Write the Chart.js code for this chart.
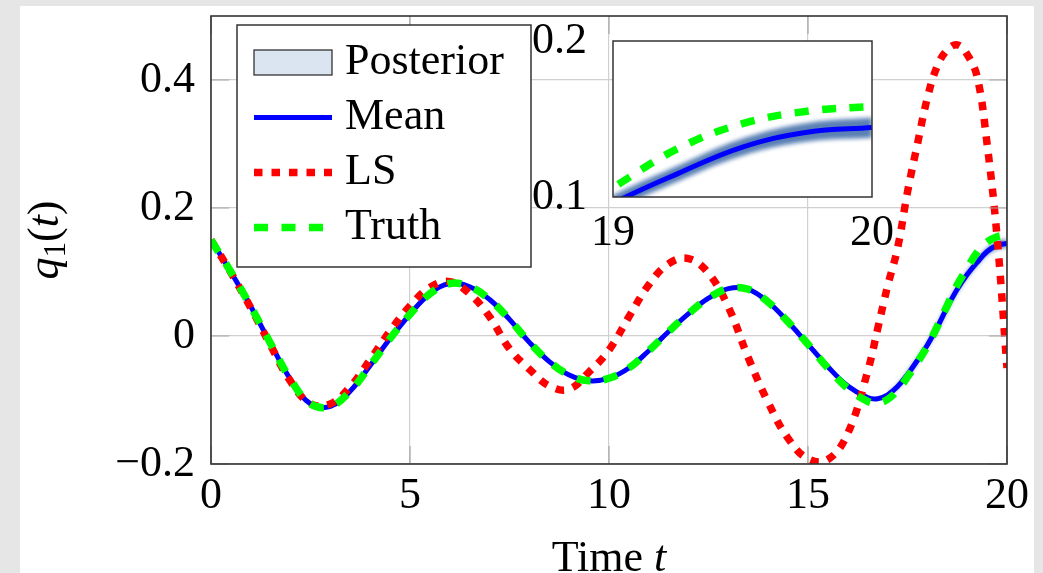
<!DOCTYPE html>
<html>
<head>
<meta charset="utf-8">
<script src="https://cdn.jsdelivr.net/npm/chart.js@4.4.1/dist/chart.umd.min.js"></script>
<style>
  html, body { margin: 0; padding: 0; background: #e6e6e6; }
  #sheet { position: absolute; left: 20px; top: 6px; width: 1014px; height: 567px; background: #fff; }
  #main { position: absolute; left: 0; top: 0; }
  #inset { position: absolute; left: 520px; top: 0; }
</style>
</head>
<body>
<div id="sheet"></div>
<canvas id="main" width="1043" height="573"></canvas>
<canvas id="inset" width="400" height="260"></canvas>
<script>
// time grid shared by the three curves
var tGrid = [0, 0.5, 1, 1.5, 2, 2.5, 3, 3.5, 4, 4.5, 5, 5.5, 6, 6.5, 7, 7.5, 8, 8.5, 9, 9.5,
  10, 10.5, 11, 11.5, 12, 12.5, 13, 13.5, 14, 14.5, 15, 15.5, 16, 16.5,
  16.75, 17, 17.25, 17.5, 17.75, 18, 18.25, 18.5, 18.75, 19, 19.25, 19.5, 19.75, 20];

var truthQ = [0.150, 0.100, 0.046, -0.012, -0.068, -0.106, -0.110, -0.086, -0.046, -0.004,
  0.034, 0.066, 0.082, 0.077, 0.057, 0.026, -0.010, -0.040, -0.061, -0.070,
  -0.066, -0.050, -0.023, 0.007, 0.035, 0.059, 0.074, 0.073, 0.053, 0.022,
  -0.013, -0.050, -0.082, -0.102,
  -0.105, -0.099, -0.085, -0.064, -0.041, -0.016, 0.015, 0.048, 0.080, 0.106, 0.131, 0.147, 0.155, 0.158];

var meanQ = [0.150, 0.100, 0.046, -0.012, -0.068, -0.106, -0.110, -0.086, -0.046, -0.004,
  0.034, 0.066, 0.082, 0.077, 0.057, 0.026, -0.010, -0.040, -0.061, -0.070,
  -0.066, -0.050, -0.023, 0.007, 0.035, 0.059, 0.074, 0.073, 0.053, 0.022,
  -0.013, -0.048, -0.078, -0.096,
  -0.098, -0.092, -0.079, -0.060, -0.038, -0.014, 0.014, 0.045, 0.073, 0.096, 0.115, 0.132, 0.1415, 0.1445];

var lsQ = [0.150, 0.099, 0.044, -0.015, -0.071, -0.106, -0.106, -0.079, -0.037, 0.008,
  0.047, 0.076, 0.085, 0.066, 0.030, -0.020, -0.052, -0.078, -0.083, -0.056,
  -0.022, 0.030, 0.080, 0.113, 0.121, 0.098, 0.045, -0.034, -0.104, -0.160,
  -0.192, -0.193, -0.152, -0.055,
  0.011, 0.078, 0.137, 0.225, 0.300, 0.372, 0.422, 0.447, 0.455, 0.440, 0.405, 0.300, 0.155, -0.050];

// posterior band (only visible near the end)
var tBand = [17, 17.25, 17.5, 17.75, 18, 18.25, 18.5, 18.75, 19, 19.25, 19.5, 19.75, 20];
var postLo = [-0.095, -0.082, -0.064, -0.042, -0.018, 0.009, 0.040, 0.068, 0.091, 0.110, 0.1265, 0.1355, 0.138];
var postHi = [-0.089, -0.076, -0.056, -0.034, -0.010, 0.019, 0.050, 0.078, 0.101, 0.120, 0.1375, 0.1475, 0.151];

var xTicks = [0, 5, 10, 15, 20];
var yTicks = [-0.2, 0, 0.2, 0.4];
var insetXTicks = [19, 20];
var insetYTicks = [0.1, 0.2];
var legendOrder = ['Posterior', 'Mean', 'LS', 'Truth'];

var serif = "'Liberation Serif', 'DejaVu Serif', serif";
Chart.defaults.font.family = serif;
Chart.defaults.color = '#000';

function pts(xs, ys) {
  return xs.map(function(x, i) { return {x: x, y: ys[i]}; });
}
function fmt(v) {
  return v < 0 ? '\u2212' + Math.abs(v) : String(v);
}
function fixTicks(list) {
  return function(scale) { scale.ticks = list.map(function(v) { return {value: v}; }); };
}

function buildSets(withLS) {
  var common = {pointRadius: 0, tension: 0.4, clip: 0, borderCapStyle: 'butt', fill: false};
  var sets = [
    {label: 'Truth', data: pts(tGrid, truthQ), borderColor: '#00ff00', borderWidth: 7.5, borderDash: [14, 13.5], order: 0},
    {label: 'LS', data: pts(tGrid, lsQ), borderColor: '#ff0000', borderWidth: 7.5, borderDash: [8.5, 9], order: 1},
    {label: 'Mean', data: pts(tGrid, meanQ), borderColor: '#0000ff', borderWidth: 5, order: 2},
    {label: '', data: pts(tBand, postLo), borderWidth: 0, order: 3},
    {label: 'Posterior', data: pts(tBand, postHi), borderWidth: 0, fill: '-1',
      backgroundColor: 'rgba(35,85,155,0.75)', legendFill: '#dbe5f1', blurFill: true, order: 4}
  ];
  if (!withLS) sets.splice(1, 1);
  return sets.map(function(s) { return Object.assign({}, common, s); });
}

// blur the posterior fill so it looks like a cloud of samples
var bandBlur = {
  id: 'bandBlur',
  beforeDatasetsDraw: function(chart) {
    chart.ctx.save();
    chart.ctx.filter = 'blur(2px)';
  },
  afterDatasetDraw: function(chart, args) {
    if (chart.data.datasets[args.index].blurFill) chart.ctx.restore();
  }
};

function drawRich(ctx, parts, cx, base) {
  var total = 0;
  parts.forEach(function(p) { ctx.font = p.font; p.w = ctx.measureText(p.text).width; total += p.w; });
  var x = cx - total / 2;
  ctx.textAlign = 'left';
  ctx.textBaseline = 'alphabetic';
  parts.forEach(function(p) { ctx.font = p.font; ctx.fillText(p.text, x, base + (p.dy || 0)); x += p.w; });
}

var mainDecor = {
  id: 'mainDecor',
  afterDatasetsDraw: function(chart) {
    var ctx = chart.ctx, a = chart.chartArea;
    var sx = chart.scales.x, sy = chart.scales.y;
    ctx.save();
    // inner tick marks
    ctx.strokeStyle = '#a6a6a6';
    ctx.lineWidth = 1.2;
    ctx.beginPath();
    xTicks.forEach(function(v) {
      var px = sx.getPixelForValue(v);
      ctx.moveTo(px, a.bottom); ctx.lineTo(px, a.bottom - 18);
      ctx.moveTo(px, a.top); ctx.lineTo(px, a.top + 18);
    });
    yTicks.forEach(function(v) {
      var py = sy.getPixelForValue(v);
      ctx.moveTo(a.left, py); ctx.lineTo(a.left + 18, py);
      ctx.moveTo(a.right, py); ctx.lineTo(a.right - 18, py);
    });
    ctx.stroke();
    ctx.strokeStyle = '#333';
    ctx.lineWidth = 1.6;
    ctx.strokeRect(a.left, a.top, a.right - a.left, a.bottom - a.top);
    ctx.restore();
  },
  afterDraw: function(chart) {
    var ctx = chart.ctx, a = chart.chartArea;
    ctx.save();
    // legend box
    var lx = a.left + 26, ly = a.top + 9, lw = 294, lh = 242;
    ctx.fillStyle = '#fff';
    ctx.fillRect(lx, ly, lw, lh);
    ctx.strokeStyle = '#333';
    ctx.lineWidth = 1.5;
    ctx.strokeRect(lx, ly, lw, lh);
    legendOrder.forEach(function(name, i) {
      var ds = chart.data.datasets.filter(function(d) { return d.label === name; })[0];
      var base = ly + 49 + i * 55;
      var x0 = lx + 17, x1 = lx + 95;
      if (ds.legendFill) {
        ctx.fillStyle = ds.legendFill;
        ctx.fillRect(x0, base - 24, x1 - x0, 25);
        ctx.strokeStyle = '#333';
        ctx.lineWidth = 1.3;
        ctx.strokeRect(x0, base - 24, x1 - x0, 25);
      } else {
        ctx.strokeStyle = ds.borderColor;
        ctx.lineWidth = ds.borderWidth;
        ctx.lineCap = 'butt';
        ctx.setLineDash(ds.borderDash || []);
        ctx.beginPath();
        ctx.moveTo(x0, base - 11.5);
        ctx.lineTo(x1, base - 11.5);
        ctx.stroke();
        ctx.setLineDash([]);
      }
      ctx.fillStyle = '#000';
      ctx.font = '44px ' + serif;
      ctx.textAlign = 'left';
      ctx.textBaseline = 'alphabetic';
      ctx.fillText(name, lx + 108, base);
    });
    // axis titles
    ctx.fillStyle = '#000';
    drawRich(ctx, [
      {text: 'Time ', font: '44px ' + serif},
      {text: 't', font: 'italic 44px ' + serif}
    ], (a.left + a.right) / 2, 571);
    ctx.translate(58, (a.top + a.bottom) / 2);
    ctx.rotate(-Math.PI / 2);
    drawRich(ctx, [
      {text: 'q', font: 'italic 44px ' + serif},
      {text: '1', font: '31px ' + serif, dy: 7},
      {text: '(', font: '44px ' + serif},
      {text: 't', font: 'italic 44px ' + serif},
      {text: ')', font: '44px ' + serif}
    ], 0, 0);
    ctx.restore();
  }
};

new Chart(document.getElementById('main'), {
  type: 'line',
  data: {datasets: buildSets(true)},
  options: {
    responsive: false,
    animation: false,
    devicePixelRatio: 1,
    layout: {padding: {top: 16, right: 36, bottom: 0, left: 0}},
    plugins: {legend: {display: false}, tooltip: {enabled: false}},
    scales: {
      x: {
        type: 'linear', min: 0, max: 20,
        afterBuildTicks: fixTicks(xTicks),
        afterFit: function(s) { s.height = 109; s.paddingLeft = 0; s.paddingRight = 0; },
        grid: {color: '#d0d0d0', lineWidth: 1.2, drawTicks: false},
        border: {display: false},
        ticks: {font: {size: 44, lineHeight: 1}, padding: 10, maxRotation: 0, autoSkip: false,
          callback: function(v) { return fmt(v); }}
      },
      y: {
        type: 'linear', min: -0.2, max: 0.5,
        afterBuildTicks: fixTicks(yTicks),
        afterFit: function(s) { s.width = 211; s.paddingTop = 0; s.paddingBottom = 0; },
        grid: {color: '#d0d0d0', lineWidth: 1.2, drawTicks: false},
        border: {display: false},
        ticks: {font: {size: 44, lineHeight: 1}, padding: 16, autoSkip: false,
          callback: function(v) { return fmt(v); }}
      }
    }
  },
  plugins: [bandBlur, mainDecor]
});

var insetDecor = {
  id: 'insetDecor',
  beforeDraw: function(chart) {
    var a = chart.chartArea;
    chart.ctx.save();
    chart.ctx.fillStyle = '#fff';
    chart.ctx.fillRect(a.left, a.top, a.right - a.left, a.bottom - a.top);
    chart.ctx.restore();
  },
  afterDatasetsDraw: function(chart) {
    var a = chart.chartArea;
    chart.ctx.save();
    chart.ctx.strokeStyle = '#333';
    chart.ctx.lineWidth = 1.5;
    chart.ctx.strokeRect(a.left, a.top, a.right - a.left, a.bottom - a.top);
    chart.ctx.restore();
  }
};

new Chart(document.getElementById('inset'), {
  type: 'line',
  data: {datasets: buildSets(false)},
  options: {
    responsive: false,
    animation: false,
    devicePixelRatio: 1,
    layout: {padding: {top: 41, right: 48, bottom: 0, left: 0}},
    plugins: {legend: {display: false}, tooltip: {enabled: false}},
    scales: {
      x: {
        type: 'linear', min: 19, max: 20,
        afterBuildTicks: fixTicks(insetXTicks),
        afterFit: function(s) { s.height = 63; s.paddingLeft = 0; s.paddingRight = 0; },
        grid: {display: false},
        border: {display: false},
        ticks: {font: {size: 44, lineHeight: 1}, padding: 6, maxRotation: 0, autoSkip: false,
          callback: function(v) { return fmt(v); }}
      },
      y: {
        type: 'linear', min: 0.1, max: 0.2,
        afterBuildTicks: fixTicks(insetYTicks),
        afterFit: function(s) { s.width = 93; s.paddingTop = 0; s.paddingBottom = 0; },
        grid: {display: false},
        border: {display: false},
        ticks: {font: {size: 44, lineHeight: 1}, padding: 18, autoSkip: false,
          callback: function(v) { return fmt(v); }}
      }
    }
  },
  plugins: [bandBlur, insetDecor]
});
</script>
</body>
</html>
